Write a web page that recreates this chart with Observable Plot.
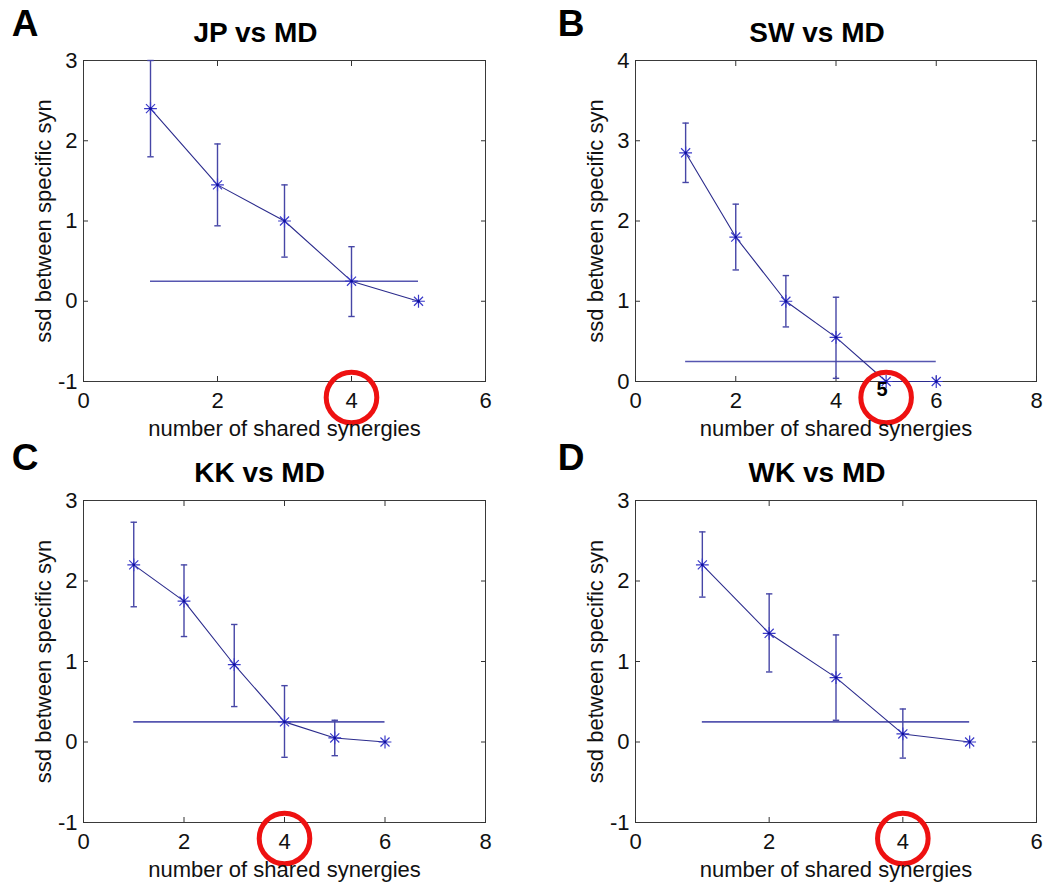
<!DOCTYPE html>
<html>
<head>
<meta charset="utf-8">
<script src="https://cdn.jsdelivr.net/npm/d3@7"></script>
<script src="https://cdn.jsdelivr.net/npm/@observablehq/plot@0.6"></script>
<style>
  body { margin: 0; background: #fff; }
  #wrap { position: relative; width: 1044px; height: 884px; background: #fff; overflow: hidden; }
  #wrap svg { position: absolute; overflow: visible; }
  #wrap g[aria-label$="tick label"] text, #wrap g[aria-label$="tick label"] { font-size: 22px !important; }
</style>
</head>
<body>
<div id="wrap"></div>
<script>
// ---- Data ----
const letters = ["A", "B", "C", "D"];
const titles = ["JP vs MD", "SW vs MD", "KK vs MD", "WK vs MD"];
const xLabel = "number of shared synergies";
const yLabel = "ssd between specific syn";

const xA = [1, 2, 3, 4, 5];
const yA = [2.4, 1.45, 1.0, 0.25, 0.0];
const loA = [1.8, 0.94, 0.55, -0.19, 0.0];
const hiA = [3.0, 1.96, 1.45, 0.68, 0.0];

const xB = [1, 2, 3, 4, 5, 6];
const yB = [2.85, 1.8, 1.0, 0.55, 0.0, 0.0];
const loB = [2.48, 1.39, 0.68, 0.04, 0.0, 0.0];
const hiB = [3.22, 2.21, 1.32, 1.05, 0.0, 0.0];

const xC = [1, 2, 3, 4, 5, 6];
const yC = [2.2, 1.75, 0.96, 0.25, 0.05, 0.0];
const loC = [1.68, 1.31, 0.44, -0.19, -0.17, 0.0];
const hiC = [2.73, 2.2, 1.46, 0.7, 0.27, 0.0];

const xD = [1, 2, 3, 4, 5];
const yD = [2.2, 1.35, 0.8, 0.1, 0.0];
const loD = [1.8, 0.87, 0.27, -0.2, 0.0];
const hiD = [2.61, 1.84, 1.33, 0.41, 0.0];

const threshold = 0.25;           // horizontal reference line value
const chosenK = [4, 5, 4, 4];     // circled number of shared synergies

const xDomains = [[0, 6], [0, 8], [0, 8], [0, 6]];
const yDomains = [[-1, 3], [0, 4], [-1, 3], [-1, 3]];
const xTicks = [[0, 2, 4, 6], [0, 2, 4, 6, 8], [0, 2, 4, 6, 8], [0, 2, 4, 6]];
const yTicks = [[-1, 0, 1, 2, 3], [0, 1, 2, 3, 4], [-1, 0, 1, 2, 3], [-1, 0, 1, 2, 3]];

// ---- layout ----
const FONT = "Liberation Sans, Arial, Helvetica, sans-serif";
const layout = [
  {left: 0,   top: 0,   width: 520, height: 440, mL: 83,  mR: 35, mT: 60, mB: 59, titleDx: -29, letterDx: -58.5, letterDy: -36.5},
  {left: 520, top: 0,   width: 524, height: 440, mL: 115, mR: 8,  mT: 60, mB: 59, titleDx: -19, letterDx: -64.5, letterDy: -36.5},
  {left: 0,   top: 440, width: 520, height: 444, mL: 83,  mR: 35, mT: 60, mB: 62, titleDx: -25, letterDx: -58.5, letterDy: -42.5},
  {left: 520, top: 440, width: 524, height: 444, mL: 115, mR: 8,  mT: 60, mB: 62, titleDx: -19, letterDx: -64.5, letterDy: -42.5}
];

const series = [[xA, yA, loA, hiA], [xB, yB, loB, hiB], [xC, yC, loC, hiC], [xD, yD, loD, hiD]];

// custom cap symbol (short horizontal line) for error-bar ends
const capSymbol = { draw(ctx, size) { const r = Math.sqrt(size / Math.PI); ctx.moveTo(-r, 0); ctx.lineTo(r, 0); } };

const LINE = "#2b2b8c";
const ERR = "#4646a6";
const MARK = "#3a3ac8";
const HLINE = "#5656b0";
const RED = "#ee1111";
const fmt = d => String(d);

const wrap = document.getElementById("wrap");

series.forEach(([xs, ys, lo, hi], i) => {
  const L = layout[i];
  const pts = xs.map((x, j) => ({x, y: ys[j], lo: lo[j], hi: hi[j]}));
  const errs = pts.filter(d => d.hi > d.lo);
  const xMax = xs[xs.length - 1];
  const hline = [{x1: xs[0], x2: xMax, y: threshold}];
  const marks = [
    Plot.frame({stroke: "#3a3a3a", strokeWidth: 1}),
    Plot.axisX({anchor: "bottom", ticks: xTicks[i], tickFormat: fmt, tickSize: -5, tickPadding: 16, fontSize: 22, label: null, stroke: "#333", fill: "#111"}),
    Plot.axisX({anchor: "top", ticks: xTicks[i], tickSize: -5, tickFormat: () => "", label: null, stroke: "#333"}),
    Plot.axisY({anchor: "left", ticks: yTicks[i], tickFormat: fmt, tickSize: -5, tickPadding: 11, fontSize: 22, label: null, stroke: "#333", fill: "#111"}),
    Plot.axisY({anchor: "right", ticks: yTicks[i], tickSize: -5, tickFormat: () => "", label: null, stroke: "#333"}),
    // threshold line
    Plot.ruleY(hline, {y: "y", x1: "x1", x2: "x2", stroke: HLINE, strokeWidth: 1.6}),
    // error bars
    Plot.ruleX(errs, {x: "x", y1: "lo", y2: "hi", stroke: ERR, strokeWidth: 1.4, clip: true}),
    Plot.dot(errs, {x: "x", y: "lo", symbol: capSymbol, r: 3.2, stroke: ERR, strokeWidth: 1.4}),
    Plot.dot(errs, {x: "x", y: "hi", symbol: capSymbol, r: 3.2, stroke: ERR, strokeWidth: 1.4}),
    // mean line
    Plot.line(pts, {x: "x", y: "y", stroke: LINE, strokeWidth: 1.1}),
    // asterisk markers (plus + times)
    Plot.dot(pts, {x: "x", y: "y", symbol: "plus", r: 4.2, stroke: MARK, strokeWidth: 1.2}),
    Plot.dot(pts, {x: "x", y: "y", symbol: "times", r: 4.2, stroke: MARK, strokeWidth: 1.2}),
    Plot.dot(pts, {x: "x", y: "y", r: 1.4, fill: "#1010a0", stroke: null}),
    // red circle around chosen number
    Plot.dot([chosenK[i]], {x: d => d, y: () => yDomains[i][0], dy: 16, r: 25.3, stroke: RED, strokeWidth: 5, fill: "none"}),
    // labels
    Plot.text([xLabel], {frameAnchor: "bottom", dy: 47, text: d => d, fontSize: 22, lineAnchor: "middle", textAnchor: "middle", fill: "#111"}),
    Plot.text([yLabel], {frameAnchor: "left", dx: -40, rotate: -90, text: d => d, fontSize: 22, lineAnchor: "middle", textAnchor: "middle", fill: "#111"}),
    Plot.text([titles[i]], {frameAnchor: "top", dx: L.titleDx, dy: -27, text: d => d, fontSize: 28, fontWeight: "bold", lineAnchor: "middle", textAnchor: "middle", fill: "#000"}),
    Plot.text([letters[i]], {frameAnchor: "top-left", dx: L.letterDx, dy: L.letterDy, text: d => d, fontSize: 37, fontWeight: "bold", lineAnchor: "middle", textAnchor: "middle", fill: "#000"})
  ];
  if (i === 1) {
    marks.push(Plot.text([chosenK[i]], {x: d => d, y: () => yDomains[i][0], dy: 8, dx: -4, text: d => String(d), fontSize: 20, fontWeight: "bold", lineAnchor: "middle", textAnchor: "middle", fill: "#000"}));
  }
  const svg = Plot.plot({
    width: L.width,
    height: L.height,
    marginLeft: L.mL,
    marginRight: L.mR,
    marginTop: L.mT,
    marginBottom: L.mB,
    style: {fontFamily: FONT, background: "transparent", overflow: "visible"},
    x: {domain: xDomains[i], label: null},
    y: {domain: yDomains[i], label: null},
    marks
  });
  svg.style.left = L.left + "px";
  svg.style.top = L.top + "px";
  wrap.appendChild(svg);
});
</script>
</body>
</html>
